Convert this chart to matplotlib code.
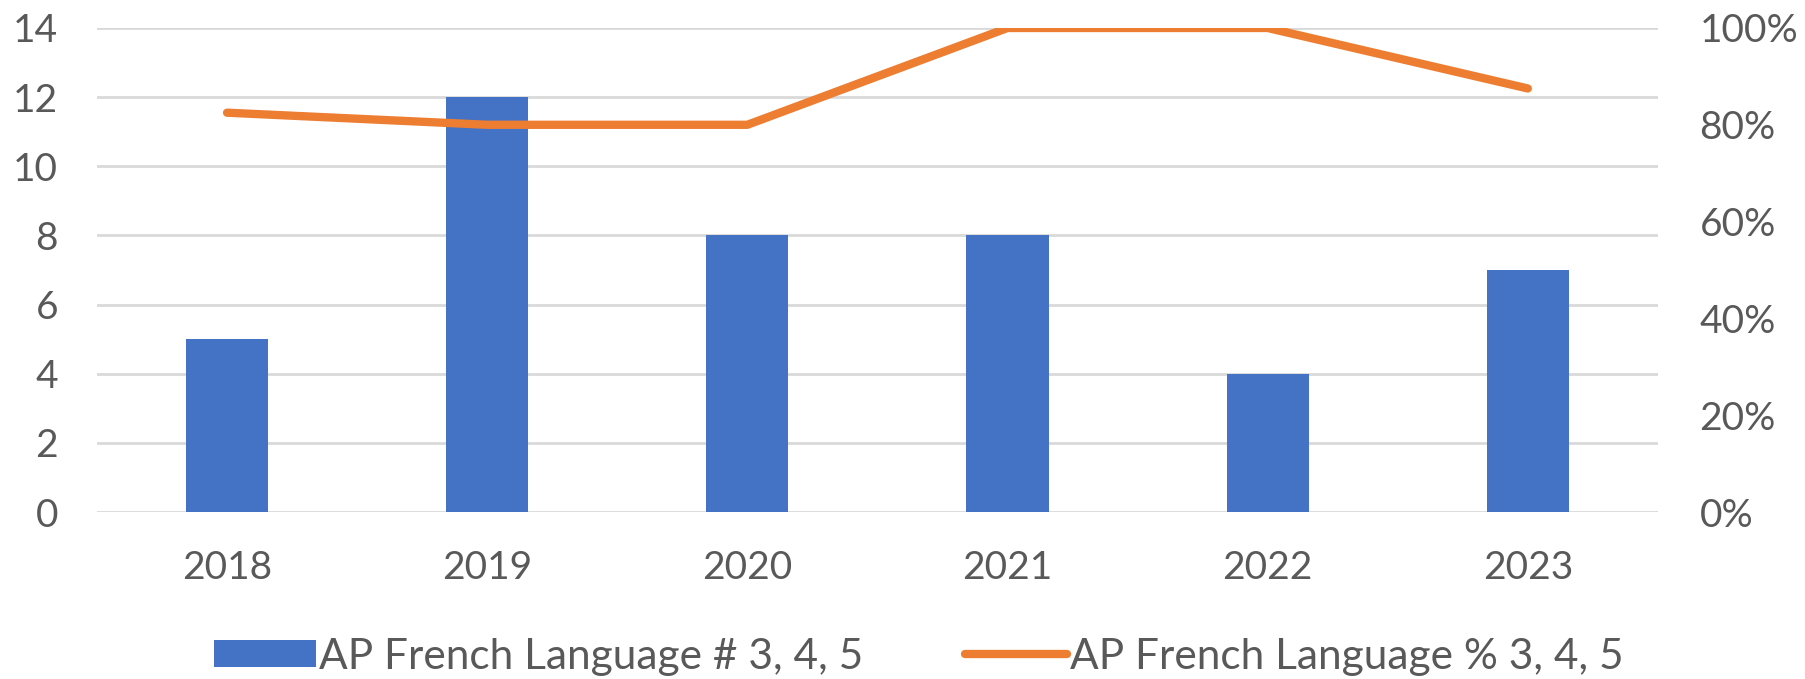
import matplotlib
matplotlib.use("Agg")
import matplotlib.pyplot as plt
from matplotlib.ticker import FixedLocator, FuncFormatter

years = ["2018", "2019", "2020", "2021", "2022", "2023"]
counts = [5, 12, 8, 8, 4, 7]
pct = [0.825, 0.80, 0.80, 1.00, 1.00, 0.875]
count_label = "AP French Language # 3, 4, 5"
pct_label = "AP French Language % 3, 4, 5"
left_ticks = [0, 2, 4, 6, 8, 10, 12, 14]
right_ticks = [0, 0.2, 0.4, 0.6, 0.8, 1.0]

BLUE = "#4472C4"
ORANGE = "#ED7D31"
GRID = "#D9D9D9"
TXT = "#595959"

plt.rcParams['font.family'] = ['Lato', 'DejaVu Sans']

fig = plt.figure(figsize=(18.06, 6.79), dpi=100)
ax = fig.add_axes([0.0537, 0.2459, 0.918 - 0.0537, 0.9588 - 0.2459])
x = list(range(len(years)))
ax.bar(x, counts, width=0.316, color=BLUE, zorder=3, label=count_label)
ax.set_xlim(-0.5, len(years) - 0.5)
ax.set_ylim(0, 14)
ax.yaxis.set_major_locator(FixedLocator(left_ticks))
ax.set_xticks(x)
ax.set_xticklabels(years)
ax.grid(axis='y', color=GRID, linewidth=2.0, zorder=0)
ax.set_axisbelow(True)
for s in ax.spines.values():
    s.set_visible(False)
ax.tick_params(axis='both', length=0, labelsize=28, colors=TXT)
ax.tick_params(axis='y', pad=28)
ax.tick_params(axis='x', pad=27)

ax2 = ax.twinx()
ax2.plot(x, pct, color=ORANGE, linewidth=6, solid_capstyle='round',
         solid_joinstyle='round', label=pct_label, zorder=4)
ax2.set_ylim(0, 1)
ax2.yaxis.set_major_locator(FixedLocator(right_ticks))
ax2.yaxis.set_major_formatter(FuncFormatter(lambda v, p: f"{v*100:.0f}%"))
for s in ax2.spines.values():
    s.set_visible(False)
ax2.tick_params(axis='y', length=0, labelsize=28, colors=TXT, pad=30)

h1, l1 = ax.get_legend_handles_labels()
h2, l2 = ax2.get_legend_handles_labels()
leg = fig.legend(h1 + h2, l1 + l2, loc='center', bbox_to_anchor=(0.509, 0.033),
                 ncol=2, frameon=False, fontsize=30.5, handlelength=2.4,
                 handletextpad=0.08, columnspacing=2.4, handleheight=0.6,
                 borderpad=0, borderaxespad=0)
for t in leg.get_texts():
    t.set_color(TXT)

fig.savefig("out.png", dpi=100)
